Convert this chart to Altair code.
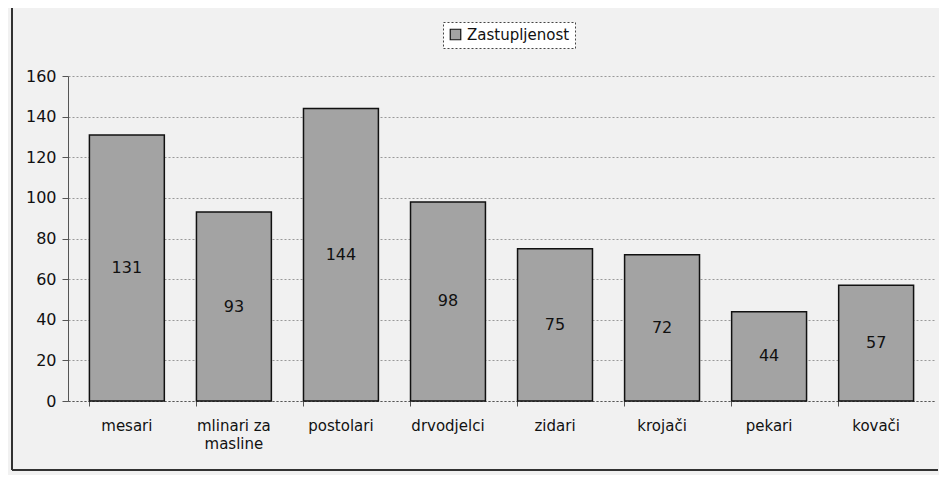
import altair as alt
import pandas as pd

categories = ["mesari", "mlinari za masline", "postolari", "drvodjelci", "zidari", "krojači", "pekari", "kovači"]
values = [131, 93, 144, 98, 75, 72, 44, 57]
series_name = "Zastupljenost"
y_ticks = [0, 20, 40, 60, 80, 100, 120, 140, 160]

df = pd.DataFrame({"kat": categories, "v": values, "s": [series_name] * len(categories)})

FONT = "DejaVu Sans"
W, H = 867, 325

x_enc = alt.X(
    "kat:N", sort=categories, title=None,
    scale=alt.Scale(paddingInner=0.3, paddingOuter=0.2),
    axis=alt.Axis(
        labelAngle=0, labelFont=FONT, labelFontSize=15, labelColor="#111",
        labelPadding=12, bandPosition=0, tickSize=5, tickColor="#555",
        domainColor="#555", domainDash=[2, 2], grid=False, labelLineHeight=18,
        labelExpr="datum.label == 'mlinari za masline' ? ['mlinari za', 'masline'] : datum.label",
    ),
)

bars = alt.Chart(df).mark_bar(fill="#a3a3a3", stroke="#111", strokeWidth=1.5).encode(
    x=x_enc,
    y=alt.Y("v:Q", title=None,
            scale=alt.Scale(domain=[0, 160], nice=False),
            axis=alt.Axis(values=y_ticks, labelFont=FONT, labelFontSize=16, labelColor="#111",
                          tickSize=6, tickColor="#555", domainColor="#555",
                          grid=True, gridDash=[2, 2], gridColor="#999", labelPadding=6)),
    color=alt.Color("s:N", title=None,
                    scale=alt.Scale(range=["#a3a3a3"]),
                    legend=alt.Legend(orient="none", legendX=375, legendY=-54,
                                      symbolType="square", symbolSize=110,
                                      symbolStrokeColor="#111", symbolStrokeWidth=1.2,
                                      labelFont=FONT, labelFontSize=15, labelColor="#111",
                                      padding=5, strokeColor="#444",
                                      fillColor="#ffffff")),
)

labels = alt.Chart(df).transform_calculate(half="datum.v / 2").mark_text(
    font=FONT, fontSize=16, color="#111"
).encode(
    x=alt.X("kat:N", sort=categories),
    y=alt.Y("half:Q"),
    text=alt.Text("v:Q"),
)

border_left = alt.Chart(df).mark_rule(color="#333", strokeWidth=1.5, clip=False).encode(
    x=alt.value(-56), y=alt.value(-70), y2=alt.value(394)
)
border_bottom = alt.Chart(df).mark_rule(color="#333", strokeWidth=1.5, clip=False).encode(
    x=alt.value(-56), x2=alt.value(870), y=alt.value(394)
)

chart = alt.layer(bars, labels, border_left, border_bottom).properties(
    width=W, height=H,
    padding={"left": 60, "top": 68, "right": 4, "bottom": 74},
    autosize=alt.AutoSizeParams(type="none"),
    background="#f1f1f1",
).configure_view(stroke=None).configure_legend(strokeDash=[2, 2])

chart.save("out.html", embed_options={"renderer": "svg", "actions": False})
